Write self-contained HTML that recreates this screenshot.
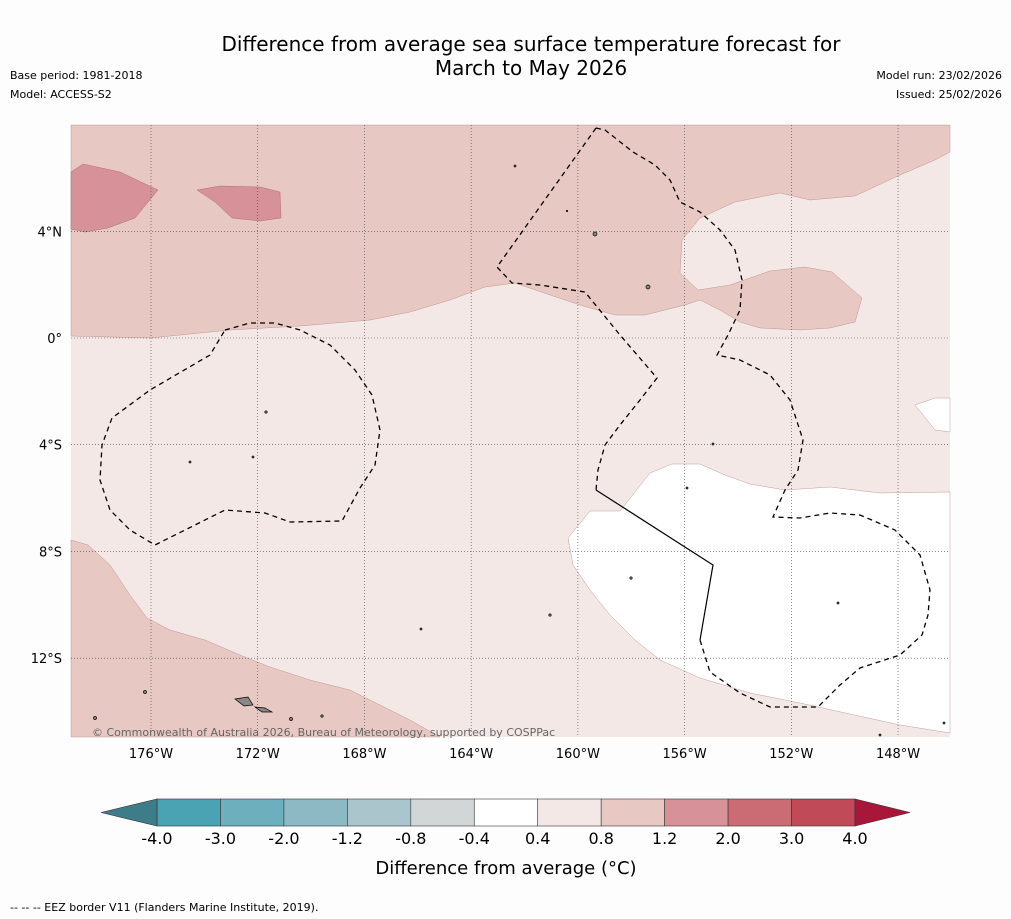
<!DOCTYPE html>
<html><head><meta charset="utf-8"><style>
body{margin:0;background:#fdfdfd;font-family:"DejaVu Sans",sans-serif;}
#wrap{position:relative;width:1011px;height:919px;overflow:hidden;background:#fdfdfd;}
.t{position:absolute;color:#000;font-family:"DejaVu Sans",sans-serif;}
</style></head><body>
<div id="wrap">
<div class="t" style="left:0;width:1062px;top:32px;text-align:center;font-size:20px;line-height:24px;">Difference from average sea surface temperature forecast for<br>March to May 2026</div>
<div class="t" style="left:10px;top:69px;font-size:11px;">Base period: 1981-2018</div>
<div class="t" style="left:10px;top:88px;font-size:11px;">Model: ACCESS-S2</div>
<div class="t" style="right:9px;top:69px;font-size:11px;">Model run: 23/02/2026</div>
<div class="t" style="right:9px;top:88px;font-size:11px;">Issued: 25/02/2026</div>
<svg id="map" width="1011" height="919" style="position:absolute;left:0;top:0">
<rect x="71" y="125" width="879" height="612" fill="#f4e8e7"/>
<path fill="#e8c8c3" stroke="#b08880" stroke-width="0.4" d="M71,125 L950,125 L950,152 L935,160 L900,175 L855,196 L810,200 L780,193 L735,202 L700,218 L682,240 L680,273 L698,290 L730,285 L770,271 L805,267 L832,272 L862,298 L855,322 L830,328 L800,330 L760,328 L740,322 L720,310 L700,300 L685,305 L645,315 L615,315 L580,305 L550,295 L515,283 L485,287 L450,300 L410,312 L370,320 L300,326 L230,330 L150,338 L71,336 Z"/>
<path fill="#d69298" stroke="#a06068" stroke-width="0.4" d="M71,172 L83,164 L120,172 L158,190 L135,218 L108,228 L85,232 L71,229 Z"/>
<path fill="#d69298" stroke="#a06068" stroke-width="0.4" d="M197,190 L220,186 L260,187 L280,192 L281,218 L260,221 L232,218 L215,202 Z"/>
<path fill="#e8c8c3" stroke="#b08880" stroke-width="0.4" d="M71,540 L88,545 L110,565 L130,595 L147,618 L170,630 L205,640 L240,655 L270,667 L310,680 L350,690 L380,705 L410,720 L440,737 L71,737 Z"/>
<path fill="#ffffff" stroke="#b08880" stroke-width="0.4" d="M568,538 L590,511 L620,511 L650,473 L672,464 L700,464 L725,475 L750,484 L785,490 L830,487 L880,493 L950,492 L950,733 L900,725 L850,714 L800,703 L750,693 L700,678 L660,660 L635,640 L610,615 L590,590 L573,565 Z"/>
<path fill="#ffffff" stroke="#b08880" stroke-width="0.4" d="M915,405 L935,398 L950,398 L950,432 L935,430 Z"/>
<g id="grid" stroke="#444" stroke-width="0.6" stroke-dasharray="1,2"></g>
<g fill="none" stroke="#000" stroke-width="1.3" stroke-dasharray="5,4">
<path d="M596,128 L605,130 L633,152 L655,165 L670,180 L680,202 L700,212 L720,230 L735,250 L742,280 L740,310 L728,335 L717,355 L740,360 L770,375 L790,400 L803,440 L798,470 L785,490 L773,517 L800,518 L830,513 L860,515 L895,530 L920,555 L930,590 L928,615 L922,635 L900,655 L860,668 L840,685 L818,707 L770,707 L740,693 L710,672 L700,640"/>
<path d="M596,128 L497,267 L512,283 L540,285 L585,292 L620,335 L657,378 L640,400 L620,425 L605,445 L598,470 L596,490"/>
<path d="M225,330 L250,323 L275,323 L300,330 L330,345 L355,370 L372,395 L380,430 L375,465 L360,488 L342,521 L290,522 L265,513 L225,510 L155,545 L130,530 L110,510 L100,480 L102,445 L112,418 L150,390 L210,355 Z"/>
</g>
<path d="M596,490 L713,565 L700,640" fill="none" stroke="#000" stroke-width="1.2"/>
<g fill="#888" stroke="#000" stroke-width="0.7">
<path d="M235,699 L248,697 L253,705 L244,706 Z"/><path d="M255,707 L265,708 L272,712 L262,712 Z"/>
<circle cx="595" cy="234" r="2"/><circle cx="648" cy="287" r="2"/><circle cx="145" cy="692" r="1.5"/><circle cx="95" cy="718" r="1.5"/><circle cx="291" cy="719" r="1.5"/><circle cx="322" cy="716" r="1.2"/><circle cx="550" cy="615" r="1.2"/><circle cx="631" cy="578" r="1.2"/><circle cx="266" cy="412" r="1.2"/><circle cx="190" cy="462" r="1"/><circle cx="253" cy="457" r="1"/><circle cx="515" cy="166" r="1"/><circle cx="567" cy="211" r="0.8"/><circle cx="713" cy="444" r="1"/><circle cx="687" cy="488" r="1"/><circle cx="421" cy="629" r="1"/><circle cx="838" cy="603" r="1"/><circle cx="880" cy="735" r="1"/><circle cx="944" cy="723" r="1"/>
</g>
<text x="92" y="736" font-size="11" fill="#666" font-family="DejaVu Sans, sans-serif">© Commonwealth of Australia 2026, Bureau of Meteorology, supported by COSPPac</text>
<g id="axes" font-family="DejaVu Sans, sans-serif" font-size="13" fill="#000"></g>
<g id="cbar"></g>
<text x="506" y="874" text-anchor="middle" font-size="18" font-family="DejaVu Sans, sans-serif">Difference from average (°C)</text>
<text x="10" y="911" font-size="11" font-family="DejaVu Sans, sans-serif">--  --  -- EEZ border V11 (Flanders Marine Institute, 2019).</text>
</svg>
</div>
<script>
const lonTicks=[-176,-172,-168,-164,-160,-156,-152,-148];
const latTicks=[4,0,-4,-8,-12];
const cbarBounds=[-4.0,-3.0,-2.0,-1.2,-0.8,-0.4,0.4,0.8,1.2,2.0,3.0,4.0];
const cbarColors=["#4aa3b3","#6eafbd","#8db9c4","#aac6cc","#d3d6d7","#ffffff","#f4e8e7","#e8c8c3","#d69298","#cb6b74","#c04a58"];
const NS="http://www.w3.org/2000/svg";
const lonX=l=>151+(l+176)*26.68;
const latY=l=>338-l*26.68;
const grid=document.getElementById('grid'),axes=document.getElementById('axes'),cb=document.getElementById('cbar');
function mk(tag,at,parent){const e=document.createElementNS(NS,tag);for(const k in at)e.setAttribute(k,at[k]);parent.appendChild(e);return e;}
lonTicks.forEach(l=>{const x=lonX(l);
const g=mk('line',{x1:x,x2:x,y1:125,y2:737},grid);


const t=mk('text',{x:x,y:758,'text-anchor':'middle'},axes);t.textContent=Math.abs(l)+'°W';

});
latTicks.forEach(l=>{const y=latY(l);
const g=mk('line',{x1:71,x2:950,y1:y,y2:y},grid);


const t=mk('text',{x:62,y:y+5,'text-anchor':'end'},axes);t.textContent=l===0?'0°':Math.abs(l)+'°'+(l>0?'N':'S');

});
const cx0=157,cx1=855,cy=799,ch=27;
const cw=(cx1-cx0)/cbarColors.length;
cbarColors.forEach((c,i)=>{const r=mk('rect',{x:cx0+i*cw,y:cy,width:cw,height:ch,fill:c,stroke:'#333','stroke-width':0.6},cb);

});
const la=mk('polygon',{points:`${cx0},${cy} ${cx0},${cy+ch} 101,${cy+ch/2}`,fill:'#3d7d8a',stroke:'#333','stroke-width':0.6},cb);


const ra=mk('polygon',{points:`${cx1},${cy} ${cx1},${cy+ch} 910,${cy+ch/2}`,fill:'#a8163a',stroke:'#333','stroke-width':0.6},cb);


cbarBounds.forEach((v,i)=>{const t=mk('text',{x:cx0+i*cw,y:844,'text-anchor':'middle','font-size':16,'font-family':'DejaVu Sans, sans-serif'},cb);t.textContent=v.toFixed(1);

});
</script>
</body></html>
